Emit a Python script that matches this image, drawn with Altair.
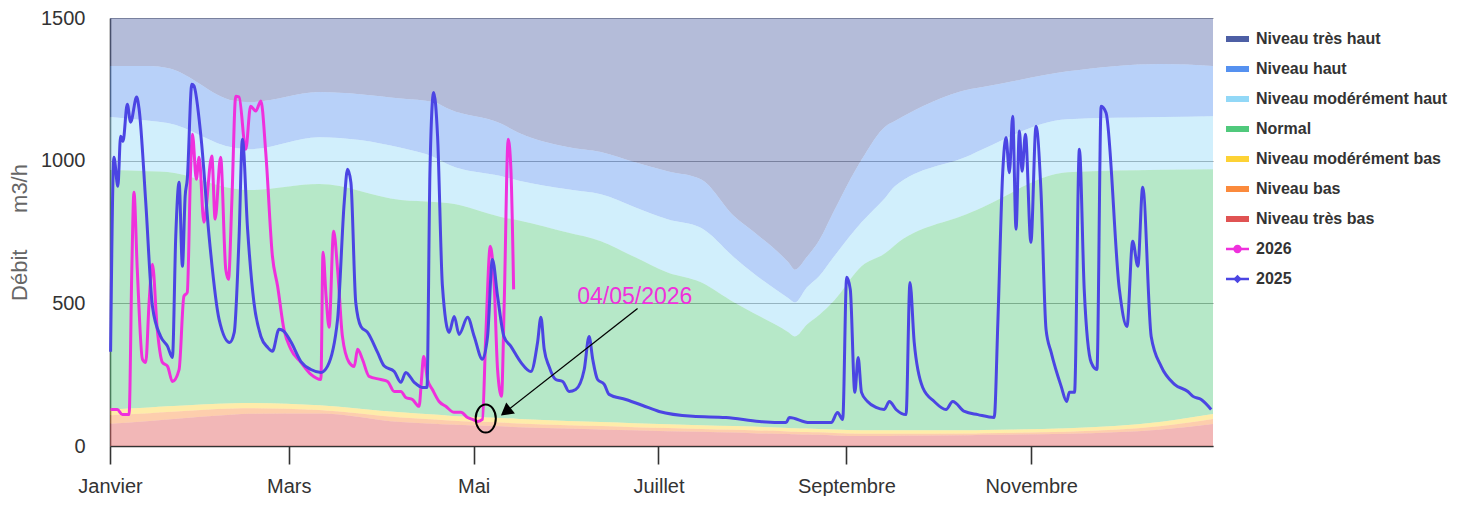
import altair as alt
import pandas as pd

# ---------------- axis ticks ----------------
month_ticks = [0, 59, 120, 181, 243, 304]
month_names = ["Janvier", "Mars", "Mai", "Juillet", "Septembre", "Novembre"]
y_ticks = [0, 500, 1000, 1500]
y_max = 1500

# ---------------- reference bands (m3/h) ----------------
band_days = [0, 13, 19, 41, 46, 69, 96, 107, 112, 129, 135, 151, 162, 173, 184, 195,
             206, 212, 224, 226, 230, 234, 239, 248, 256, 259, 284, 288, 316, 347, 364]
h1 = [1332, 1332, 1325, 1210, 1205, 1241, 1218, 1205, 1180, 1130, 1097, 1048, 1030, 995, 963, 935,
      805, 754, 642, 618, 663, 720, 825, 1003, 1121, 1139, 1251, 1258, 1313, 1339, 1332]
h2 = [1153, 1140, 1132, 1045, 1040, 1082, 1045, 1012, 985, 946, 930, 900, 882, 838, 795, 765,
      661, 608, 517, 503, 556, 595, 665, 784, 872, 910, 1020, 1040, 1145, 1153, 1156]
h3 = [967, 963, 960, 902, 897, 918, 862, 855, 851, 803, 790, 748, 718, 663, 608, 574,
      503, 468, 398, 384, 426, 459, 510, 630, 677, 704, 818, 837, 959, 968, 970]
l1 = [128, 135, 139, 150, 151, 143, 118, 110, 106, 98, 95, 88, 84, 80, 76, 73,
      70, 68, 63, 62, 61, 60, 58, 55, 55, 55, 55, 56, 62, 85, 112]
l2 = [108, 115, 119, 131, 132, 126, 100, 93, 89, 82, 79, 73, 70, 66, 63, 60,
      57, 55, 51, 50, 49, 48, 46, 43, 43, 43, 44, 45, 50, 70, 95]
l3 = [78, 88, 93, 110, 113, 114, 84, 78, 75, 69, 66, 61, 58, 55, 52, 50,
      47, 45, 42, 41, 40, 39, 37, 35, 35, 36, 38, 39, 43, 58, 77]

levels = ["Niveau très haut", "Niveau haut", "Niveau modérément haut", "Normal",
          "Niveau modérément bas", "Niveau bas", "Niveau très bas"]
level_colors = ["#4d5fa5", "#5591f0", "#92d8f7", "#50c97c", "#fdd235", "#fb8a3c", "#e05353"]

# ---------------- observed flows ----------------
days_2025 = [0.2, 1.3, 2.6, 3.5, 4.3, 5.7, 6.8, 8.8, 9.6, 11.8, 14, 16.7, 19, 20.6, 21.7, 22.8,
             23.9, 24.8, 25.5, 27, 27.7, 30, 32.7, 36, 39.5, 41, 42.6, 43.7, 45.4, 47.5, 49.8,
             52, 53.6, 55.8, 57.4, 59.7, 63, 66.3, 69.6, 71.8, 75.1, 77.3, 78.4, 79.5, 81.1,
             82.8, 85, 88.3, 90.5, 93.8, 96, 97.6, 100.4, 103.1, 104.6, 105.6, 106.8, 108.1,
             109.7, 111.9, 113.6, 115.2, 118, 120.2, 122.9, 124.6, 126.2, 127.9, 130, 132.3,
             135.6, 138.9, 141.1, 142.2, 143.3, 144.9, 147.1, 149.4, 151.5, 153.7, 156.5, 158.1,
             159.3, 160.9, 163.1, 164.7, 170.2, 175.8, 181.2, 192.3, 203.3, 214.3, 223.1, 224.2,
             230.8, 238, 240.1, 241.8, 243.1, 244.3, 245.8, 246.9, 248, 250, 252.8, 255.5,
             257.2, 259.4, 262.7, 264, 265.4, 268.2, 272, 275.9, 278.1, 282, 286.4, 291.8, 293,
             294.6, 295.7, 296.8, 297.9, 299, 300.1, 301, 302.1, 303.9, 305.6, 307.2, 308.9,
             310.6, 313.9, 315.7, 316.6, 318.3, 319.9, 321.5, 323.8, 325.7, 327.1, 328.7, 333.1,
             335.6, 337.5, 339.2, 340.8, 343.6, 346.9, 351.3, 355.7, 357.4, 360.1, 363.4]
flow_2025 = [330, 1012, 910, 1086, 1068, 1198, 1135, 1223, 1181, 854, 490, 384, 349, 310, 735, 924,
             630, 875, 935, 1268, 1262, 1086, 735, 444, 363, 398, 735, 1075, 760, 503, 384,
             346, 332, 409, 402, 365, 296, 268, 258, 280, 444, 854, 970, 924, 503,
             419, 398, 328, 280, 261, 223, 258, 223, 205, 205, 970, 1239, 1086,
             561, 398, 454, 391, 451, 384, 304, 384, 654, 525, 384, 349,
             293, 261, 363, 451, 339, 279, 233, 226, 191, 198, 268, 384,
             304, 233, 216, 181, 163, 142, 121, 104, 100, 86, 82, 100,
             82, 82, 117, 93, 591, 549, 188, 310, 188, 156, 135, 128,
             156, 128, 110, 573, 363, 205, 156, 128, 156, 121, 110, 100, 433,
             958, 1081, 958, 1156, 760, 1104, 963, 1093, 714, 1121, 900, 409,
             328, 209, 156, 188, 188, 1040, 549, 293, 268, 1191, 1168, 549,
             419, 718, 630, 907, 384, 279, 216, 191, 174, 163, 128]

days_2026 = [0.2, 2.4, 4.1, 6.3, 7.2, 7.9, 9, 10.7, 11.8, 12.9, 14, 15.6, 17.3, 19, 20.6, 22.8,
             24.4, 25.5, 26.6, 27.2, 28.5, 29.4, 31, 33.6, 34.7, 36.5, 38.2, 39.1, 40.2, 41.5,
             42.6, 44.8, 46.4, 48.1, 49.8, 51.4, 53.6, 55.3, 57.4, 59.7, 63, 66.3, 69.6, 70.3,
             71.3, 72.3, 73.8, 75.1, 76.7, 78.9, 80.6, 81.7, 83.3, 85.5, 89.4, 91.6, 93.8, 96,
             97.6, 99.8, 102, 102.8, 103.5, 104.8, 106.4, 108.6, 110.8, 113.6, 115.8, 118, 119.6,
             121.3, 122.9, 124, 125.5, 126.8, 127.9, 129.2, 130.1, 131.4, 132.3, 133.2]
flow_2026 = [128, 128, 110, 110, 619, 889, 619, 304, 293, 503, 637, 409, 293, 279, 226, 268,
             525, 538, 970, 1093, 935, 1012, 784, 1016, 795, 1012, 619, 584, 854, 1226,
             1223, 1040, 1191, 1174, 1209, 1029, 665, 561, 409, 339, 293, 251, 233, 679,
             525, 416, 753, 619, 384, 293, 279, 339, 304, 244, 233, 226, 191, 191,
             170, 163, 139, 233, 314, 233, 198, 156, 139, 118, 118, 100, 93,
             86, 93, 384, 700, 561, 268, 174, 503, 1075, 970, 549]

series_names = ["2026", "2025"]
series_colors = ["#ef30dc", "#4b45e3"]

# ---------------- annotation ----------------
annot_label = "04/05/2026"
annot_text_day, annot_text_val = 173.2, 523
annot_arrow_from = (174.1, 482)
annot_arrow_head = (130.6, 120)
annot_mark_day, annot_mark_val = 124.0, 96

# ---------------- data frames ----------------
n = len(band_days)
uppers = [[y_max] * n, h1, h2, h3, l1, l2, l3]
lowers = [h1, h2, h3, l1, l2, l3, [0] * n]
rows = []
for lvl, up, lo in zip(levels, uppers, lowers):
    for d, u, l in zip(band_days, up, lo):
        rows.append({"level": lvl, "day": d, "lo": l, "hi": u})
df_bands = pd.DataFrame(rows)

df_2025 = pd.DataFrame({"day": days_2025, "flow": flow_2025})
df_2026 = pd.DataFrame({"day": days_2026, "flow": flow_2026})

label_expr = " : ".join(
    f"datum.value == {v} ? '{name}'" for v, name in zip(month_ticks, month_names)
) + " : ''"

SANS = "Liberation Sans, Arial, sans-serif"

x_enc = alt.X(
    "day:Q",
    scale=alt.Scale(domain=[0, 364], nice=False, zero=False),
    axis=alt.Axis(values=month_ticks, labelExpr=label_expr, grid=False, title=None,
                  tickSize=18, tickWidth=1.6, tickColor="#333333",
                  domainColor="#333333", domainWidth=1.6,
                  labelFont=SANS, labelFontSize=20, labelColor="#333333",
                  labelPadding=12, labelFlush=False),
)
y_scale = alt.Scale(domain=[0, y_max], nice=False, zero=True)

bands = alt.Chart(df_bands).mark_area(opacity=0.42, interpolate="monotone").encode(
    x=x_enc,
    y=alt.Y("lo:Q", scale=y_scale,
            axis=alt.Axis(values=y_ticks, format="d", grid=True, gridColor="#999999", gridWidth=1,
                          ticks=False, tickSize=0, domainColor="#444444", domainWidth=1.6,
                          labelFont=SANS, labelFontSize=20, labelColor="#333333",
                          labelPadding=25,
                          title="Débit" + "\u00a0" * 6 + "m3/h", titleFont=SANS,
                          titleFontSize=22, titleFontWeight="normal", titleColor="#666666",
                          titlePadding=9.5)),
    y2="hi:Q",
    color=alt.Color("level:N", scale=alt.Scale(domain=levels, range=level_colors), legend=None),
)

line_2026 = alt.Chart(df_2026).mark_line(
    interpolate="monotone", strokeWidth=3, color=series_colors[0]
).encode(x="day:Q", y="flow:Q")
line_2025 = alt.Chart(df_2025).mark_line(
    interpolate="monotone", strokeWidth=3, color=series_colors[1]
).encode(x="day:Q", y="flow:Q")

df_annot_text = pd.DataFrame({"day": [annot_text_day], "val": [annot_text_val], "t": [annot_label]})
annot_text = alt.Chart(df_annot_text).mark_text(
    font=SANS, fontSize=23, color=series_colors[0], align="center", baseline="middle"
).encode(x="day:Q", y="val:Q", text="t:N")

df_arrow = pd.DataFrame({"d0": [annot_arrow_from[0]], "v0": [annot_arrow_from[1]],
                         "d1": [annot_arrow_head[0]], "v1": [annot_arrow_head[1]]})
arrow_line = alt.Chart(df_arrow).mark_rule(color="black", strokeWidth=1.3).encode(
    x="d0:Q", y="v0:Q", x2="d1:Q", y2="v1:Q")
arrow_head = alt.Chart(df_arrow).mark_point(
    shape="triangle-up", filled=True, color="black", opacity=1, size=200, angle=232
).encode(x="d1:Q", y="v1:Q")

df_mark = pd.DataFrame({"day": [annot_mark_day], "val": [annot_mark_val]})
ellipse = alt.Chart(df_mark).mark_point(
    shape="M0,-1A0.72,1,0,1,1,0,1A0.72,1,0,1,1,0,-1Z",
    filled=False, stroke="black", strokeWidth=2, opacity=1, size=784
).encode(x="day:Q", y="val:Q")

main = alt.layer(bands, line_2026, line_2025, annot_text, arrow_line, arrow_head, ellipse).properties(
    width=1103, height=428
)

# ---------------- legend panel ----------------
legend_labels = levels + series_names
legend_colors = level_colors + series_colors
legend_kind = ["area"] * len(levels) + ["circle", "diamond"]
df_leg = pd.DataFrame({"label": legend_labels, "color": legend_colors,
                       "kind": legend_kind, "row": list(range(len(legend_labels)))})

ly = alt.Y("row:Q", scale=alt.Scale(domain=[-0.7, 13.567], reverse=True, nice=False, zero=False), axis=None)
lcolor = alt.Color("color:N", scale=None, legend=None)

leg_swatch = alt.Chart(df_leg).transform_filter("datum.kind == 'area'").mark_rule(strokeWidth=6).encode(
    x=alt.value(8), x2=alt.value(31), y=ly, color=lcolor)
leg_line = alt.Chart(df_leg).transform_filter("datum.kind != 'area'").mark_rule(strokeWidth=2.5).encode(
    x=alt.value(8), x2=alt.value(31), y=ly, color=lcolor)
leg_circle = alt.Chart(df_leg).transform_filter("datum.kind == 'circle'").mark_point(
    shape="circle", filled=True, size=70, opacity=1).encode(x=alt.value(19.5), y=ly, color=lcolor)
leg_diamond = alt.Chart(df_leg).transform_filter("datum.kind == 'diamond'").mark_point(
    shape="diamond", filled=True, size=70, opacity=1).encode(x=alt.value(19.5), y=ly, color=lcolor)
leg_text = alt.Chart(df_leg).mark_text(
    align="left", baseline="middle", font=SANS, fontSize=16, fontWeight="bold", color="#333333"
).encode(x=alt.value(38), y=ly, text="label:N")

legend = alt.layer(leg_swatch, leg_line, leg_circle, leg_diamond, leg_text).properties(width=232, height=428)

chart = alt.hconcat(main, legend, spacing=0).properties(
    padding={"left": 0, "top": 0, "right": 0, "bottom": 0}
).configure_view(stroke=None)

chart.save("out.html", embed_options={"renderer": "svg", "actions": False})
